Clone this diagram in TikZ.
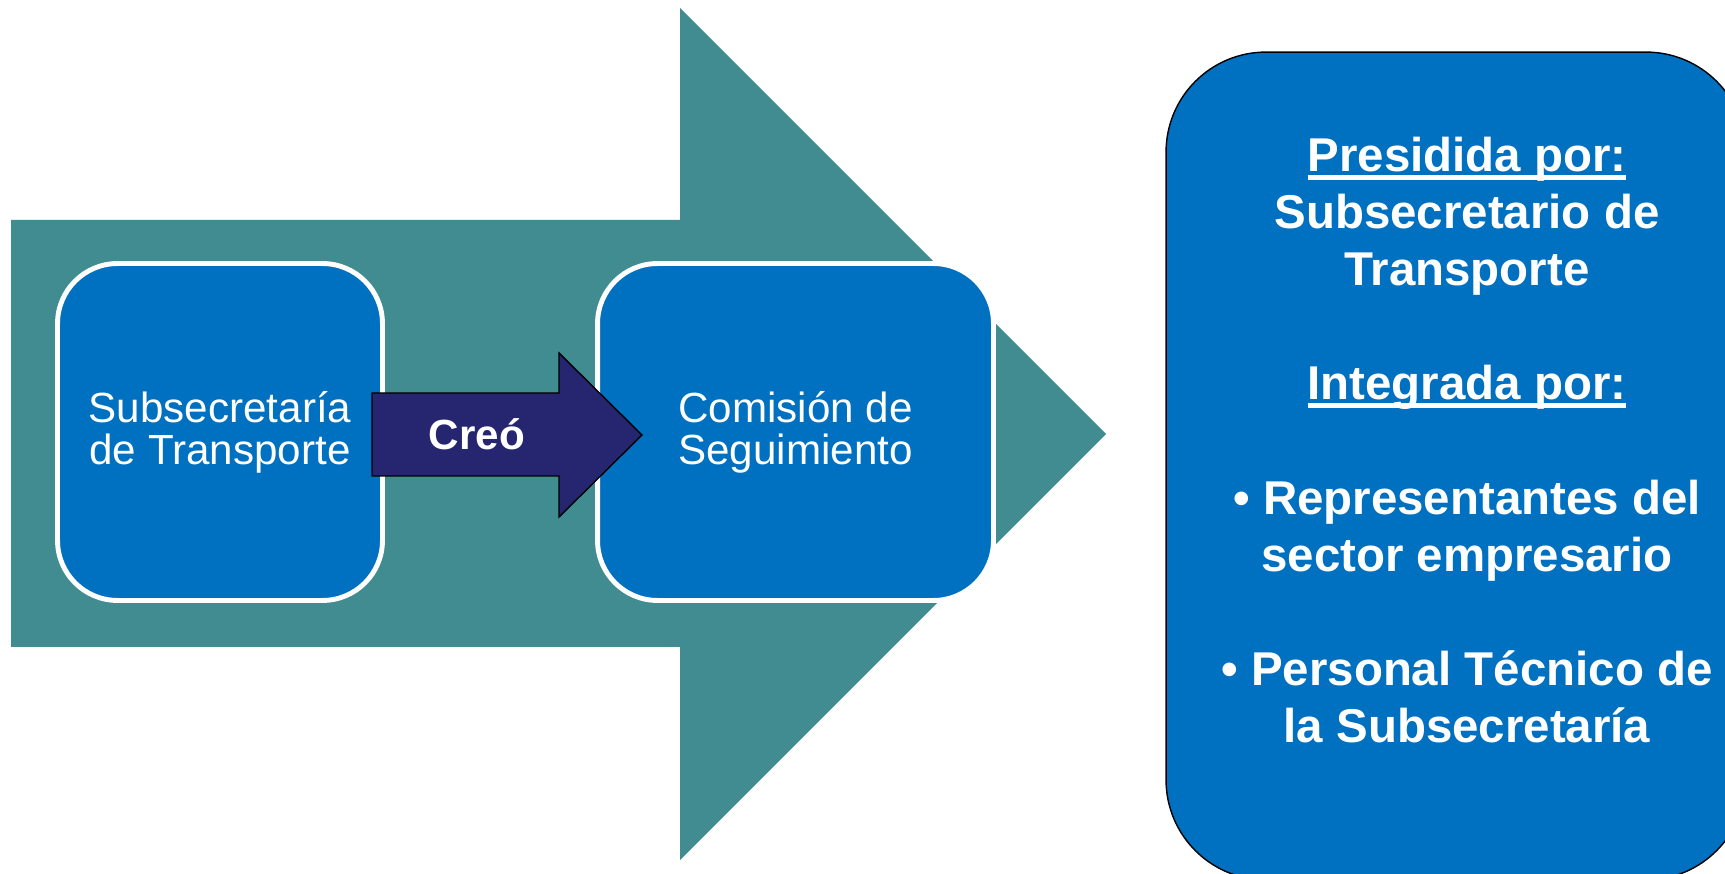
\documentclass[tikz,border=0pt]{standalone}
\usepackage{fontspec}
\setmainfont{Liberation Sans}
\usepackage{xcolor}
\usepackage{tikz}
\usetikzlibrary{positioning}
\definecolor{flowteal}{RGB}{64,140,145}
\definecolor{boxblue}{RGB}{0,112,192}
\definecolor{creonavy}{RGB}{38,38,112}
\newsavebox{\ulbox}
\newcommand{\ulined}[1]{\sbox{\ulbox}{#1}\rlap{\rule[-0.17em]{\wd\ulbox}{0.1em}}\usebox{\ulbox}}
\begin{document}
\begin{tikzpicture}[x=0.02cm,y=-0.02cm,
  stagebox/.style={draw=white,line width=2.8pt,fill=boxblue,rounded corners=1.2cm,inner sep=0pt,minimum height=6.74cm,text=white,align=center,font=\fontsize{24}{24}\selectfont},
  infobox/.style={draw=black,line width=0.8pt,fill=boxblue,rounded corners=2cm,inner sep=0pt,minimum width=11.6cm,minimum height=16.56cm},
  infotext/.style={text=white,align=center,inner sep=0pt,font=\bfseries\fontsize{27}{32.5}\selectfont}]
\clip (0,0) rectangle (1725,874);
\fill[white] (0,0) rectangle (1725,874);
\fill[flowteal] (11,220) -- (680,220) -- (680,8) -- (1106,434) -- (680,860) -- (680,647) -- (11,647) -- cycle;
\node[stagebox,minimum width=6.5cm] (subse) at (220,432) {Subsecretaría\\de Transporte};
\node[stagebox,minimum width=7.92cm] (comision) at (795.5,432) {Comisión de\\Seguimiento};
\draw[fill=creonavy,line width=0.8pt] (372,393) -- (559,393) -- (559,353) -- (642,435) -- (559,517) -- (559,476) -- (372,476) -- cycle;
\node[text=white,font=\bfseries\fontsize{24}{24}\selectfont] (creo) at (477,434) {Creó};
\node[infobox] (integ) at (1456,466) {};
\node[infotext] (integtext) at (1467,440) {\ulined{Presidida por:}\\Subsecretario de\\Transporte\\[32.5pt]\ulined{Integrada por:}\\[32.5pt]• Representantes del\\sector empresario\\[32.5pt]• Personal Técnico de\\la Subsecretaría};
\end{tikzpicture}
\end{document}
